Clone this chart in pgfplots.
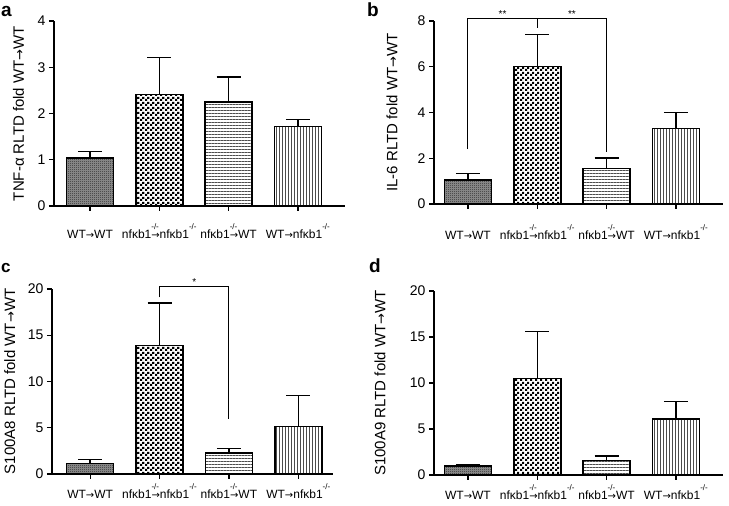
\documentclass[border=0pt]{standalone}
\usepackage{fontspec}
\setmainfont{Liberation Sans}
\newfontfamily\arrfont{DejaVu Sans}
\usepackage{pgfplots}
\pgfplotsset{compat=1.18}
\usetikzlibrary{patterns,patterns.meta}

\tikzdeclarepattern{
  name=finecheck,
  type=uncolored,
  bounding box={(0,0) and (2pt,2pt)},
  tile size={(2pt,2pt)},
  code={\fill (0,0) rectangle (1pt,1pt); \fill (1pt,1pt) rectangle (2pt,2pt);}
}
\tikzdeclarepattern{
  name=coarsecheck,
  type=uncolored,
  bounding box={(0,0) and (5pt,5pt)},
  tile size={(5pt,5pt)},
  code={\fill (0,0) rectangle (2.5pt,2.5pt); \fill (2.5pt,2.5pt) rectangle (5pt,5pt);}
}

\newcommand{\arr}{{\arrfont\fontsize{10}{10}\selectfont →}}
\newcommand{\arrl}{{\arrfont\fontsize{13}{13}\selectfont →}}
\newcommand{\kosup}{\raisebox{9pt}{\fontsize{8}{8}\selectfont -/-}}
\newcommand{\ko}{nfκb1\rlap{\kosup}}
\newcommand{\kof}{nfκb1\kosup}

\pgfplotsset{
  panel/.style={
    scale only axis,
    axis x line*=bottom, axis y line*=left,
    axis line style={line width=1.3pt, -},
    tick style={line width=1.3pt, black},
    major tick length=5pt,
    tick align=outside,
    xtick={0,1,2,3},
    xticklabels={WT\arr WT, \ko\arr\kof, \ko\arr WT, WT\arr\kof},
    xticklabel style={font=\fontsize{12}{12}\selectfont, text height=9pt, text depth=0pt},
    yticklabel style={font=\fontsize{14}{14}\selectfont},
    ylabel style={font=\fontsize{15}{15}\selectfont, anchor=center},
    /pgf/number format/assume math mode=true,
    ymin=0,
    ybar, bar width=47pt, bar shift=0pt,
    clip=false,
  },
  eb/.style={draw=black, line width=1.5pt,
    error bars/y dir=plus, error bars/y explicit,
    error bars/error bar style={line width=1.5pt, solid, black},
    error bars/error mark options={rotate=90, line width=1.5pt, mark size=12pt, black}},
  b1/.style={eb, fill=black!40, postaction={pattern=finecheck, pattern color=black}},
  b2/.style={eb, pattern=coarsecheck, pattern color=black},
  b3/.style={eb, pattern={Lines[angle=0, distance=3pt, line width=0.8pt]}, pattern color=black!70},
  b4/.style={eb, pattern={Lines[angle=90, distance=3pt, line width=0.8pt]}, pattern color=black!70},
}

\begin{document}
\begin{tikzpicture}
\useasboundingbox (0,0) rectangle (729pt,506pt);

% panel a
\begin{axis}[panel, at={(54pt,300pt)}, anchor=south west, width=291pt, height=185pt,
  xmin=-0.52, xmax=3.68, ymax=4, ytick={0,1,2,3,4},
  xticklabel style={yshift=-15pt},
  ylabel={TNF-α RLTD fold WT\arrl WT},
  ylabel style={at={(axis description cs:-0.122,0.5)}}]
\addplot[b1] coordinates {(0,1.04) +- (0,0.14)};
\addplot[b2] coordinates {(1,2.41) +- (0,0.80)};
\addplot[b3] coordinates {(2,2.25) +- (0,0.54)};
\addplot[b4] coordinates {(3,1.72) +- (0,0.15)};
\end{axis}

% panel b
\begin{axis}[panel, at={(434pt,302pt)}, anchor=south west, width=289pt, height=183pt,
  xmin=-0.49, xmax=3.68, ymax=8, ytick={0,2,4,6,8},
  xticklabel style={yshift=-18pt},
  ylabel={IL-6 RLTD fold WT\arrl WT},
  ylabel style={at={(axis description cs:-0.145,0.5)}}]
\addplot[b1] coordinates {(0,1.05) +- (0,0.29)};
\addplot[b2] coordinates {(1,6.02) +- (0,1.38)};
\addplot[b3] coordinates {(2,1.56) +- (0,0.46)};
\addplot[b4] coordinates {(3,3.30) +- (0,0.71)};
\draw[line width=1pt] (axis cs:0,2.4) -- (axis cs:0,8.1) -- (axis cs:2,8.1) -- (axis cs:2,2.28);
\draw[line width=1pt] (axis cs:1,8.1) -- (axis cs:1,7.7);
\node[anchor=base, inner sep=0pt, yshift=1pt, font=\fontsize{10}{10}\selectfont] at (axis cs:0.5,8.1) {**};
\node[anchor=base, inner sep=0pt, yshift=1pt, font=\fontsize{10}{10}\selectfont] at (axis cs:1.5,8.1) {**};
\end{axis}

% panel c
\begin{axis}[panel, at={(52pt,32pt)}, anchor=south west, width=281pt, height=185pt,
  xmin=-0.55, xmax=3.5, ymax=20, ytick={0,5,10,15,20},
  xticklabel style={yshift=-7pt},
  ylabel={S100A8 RLTD fold WT\arrl WT},
  ylabel style={at={(axis description cs:-0.15,0.5)}}]
\addplot[b1] coordinates {(0,1.16) +- (0,0.39)};
\addplot[b2] coordinates {(1,13.9) +- (0,4.58)};
\addplot[b3] coordinates {(2,2.27) +- (0,0.51)};
\addplot[b4] coordinates {(3,5.16) +- (0,3.32)};
\draw[line width=1pt] (axis cs:1,19.1) -- (axis cs:1,20.25) -- (axis cs:2,20.25) -- (axis cs:2,5.96);
\node[anchor=base, inner sep=0pt, yshift=1pt, font=\fontsize{10}{10}\selectfont] at (axis cs:1.5,20.25) {*};
\end{axis}

% panel d
\begin{axis}[panel, at={(434pt,31pt)}, anchor=south west, width=289pt, height=184pt,
  xmin=-0.49, xmax=3.68, ymax=20, ytick={0,5,10,15,20},
  xticklabel style={yshift=-7pt},
  ylabel={S100A9 RLTD fold WT\arrl WT},
  ylabel style={at={(axis description cs:-0.187,0.5)}}]
\addplot[b1] coordinates {(0,0.98) +- (0,0.18)};
\addplot[b2] coordinates {(1,10.5) +- (0,5.1)};
\addplot[b3] coordinates {(2,1.56) +- (0,0.51)};
\addplot[b4] coordinates {(3,6.09) +- (0,1.88)};
\end{axis}

\node[anchor=base west, inner sep=0pt, font=\bfseries\fontsize{19}{19}\selectfont] at (1pt,489pt) {a};
\node[anchor=base west, inner sep=0pt, font=\bfseries\fontsize{19}{19}\selectfont] at (367pt,489pt) {b};
\node[anchor=base west, inner sep=0pt, font=\bfseries\fontsize{17}{17}\selectfont] at (1pt,233pt) {c};
\node[anchor=base west, inner sep=0pt, font=\bfseries\fontsize{19}{19}\selectfont] at (369pt,233pt) {d};
\end{tikzpicture}
\end{document}
